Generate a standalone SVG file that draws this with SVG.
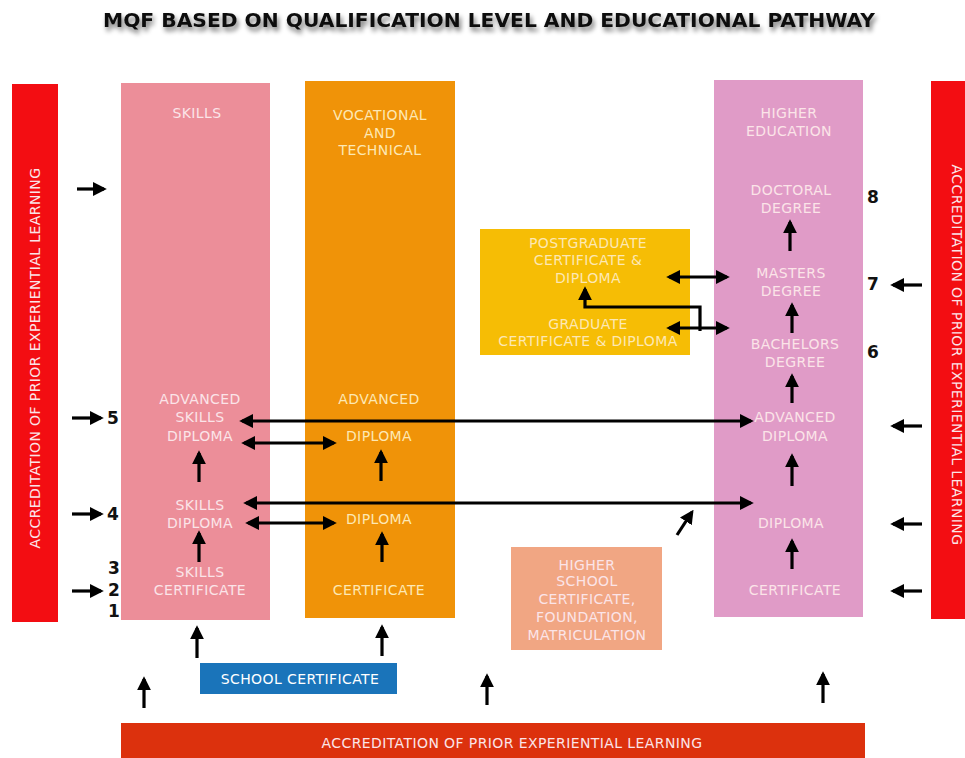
<svg xmlns="http://www.w3.org/2000/svg" width="965" height="758" viewBox="0 0 965 758">
<defs>
<marker id="ah" viewBox="0 0 10 10" refX="8" refY="5" markerWidth="14" markerHeight="14" markerUnits="userSpaceOnUse" orient="auto-start-reverse">
<path d="M0,0 L10,5 L0,10 Z" fill="#000"/>
</marker>
<filter id="sh" x="-5%" y="-50%" width="110%" height="200%">
<feGaussianBlur in="SourceAlpha" stdDeviation="2.5"/>
<feOffset dx="2" dy="4" result="b"/>
<feComponentTransfer><feFuncA type="linear" slope="0.55"/></feComponentTransfer>
<feMerge><feMergeNode/><feMergeNode in="SourceGraphic"/></feMerge>
</filter>
</defs>
<style>
.t{font-family:"DejaVu Sans","Liberation Sans",sans-serif;font-size:14px;letter-spacing:0.4px;text-anchor:middle}
.pk{fill:#fbe4e8}
.yl{fill:#fde8b4}
.wh{fill:#fff}
.num{font-family:"DejaVu Sans","Liberation Sans",sans-serif;font-size:17px;font-weight:bold;fill:#111;text-anchor:middle}
.a{stroke:#000;stroke-width:3.2;fill:none;marker-end:url(#ah)}
.d{stroke:#000;stroke-width:3.2;fill:none;marker-end:url(#ah);marker-start:url(#ah)}
</style>
<rect width="965" height="758" fill="#fff"/>
<text x="489" y="27" font-family="'DejaVu Sans','Liberation Sans',sans-serif" font-weight="bold" font-size="20" text-anchor="middle" textLength="772" lengthAdjust="spacingAndGlyphs" fill="#111" filter="url(#sh)">MQF BASED ON QUALIFICATION LEVEL AND EDUCATIONAL PATHWAY</text>

<g id="apel-left">
<rect x="12" y="84" width="46" height="538" fill="#f30d12"/>
<text class="t pk" transform="translate(40,358) rotate(-90)" font-size="14.5">ACCREDITATION OF PRIOR EXPERIENTIAL LEARNING</text>
</g>
<g id="apel-right">
<rect x="931" y="81" width="34" height="538" fill="#f30d12"/>
<text class="t pk" transform="translate(952,355) rotate(90)" font-size="14.5">ACCREDITATION OF PRIOR EXPERIENTIAL LEARNING</text>
</g>
<g id="apel-bottom">
<rect x="121" y="723" width="744" height="35" fill="#dc310d"/>
<text class="t pk" x="512" y="748" font-size="14.5">ACCREDITATION OF PRIOR EXPERIENTIAL LEARNING</text>
</g>

<g id="skills">
<rect x="121" y="83" width="149" height="537" fill="#ec8e99"/>
<text class="t pk" x="197" y="118">SKILLS</text>
<text class="t pk" x="200" y="404">ADVANCED</text>
<text class="t pk" x="200" y="422">SKILLS</text>
<text class="t pk" x="200" y="441">DIPLOMA</text>
<text class="t pk" x="200" y="510">SKILLS</text>
<text class="t pk" x="200" y="528">DIPLOMA</text>
<text class="t pk" x="200" y="577">SKILLS</text>
<text class="t pk" x="200" y="595">CERTIFICATE</text>
</g>

<g id="vocational">
<rect x="305" y="81" width="150" height="537" fill="#f09308"/>
<text class="t yl" x="380" y="120">VOCATIONAL</text>
<text class="t yl" x="380" y="138">AND</text>
<text class="t yl" x="380" y="155">TECHNICAL</text>
<text class="t yl" x="379" y="404">ADVANCED</text>
<text class="t yl" x="379" y="441">DIPLOMA</text>
<text class="t yl" x="379" y="524">DIPLOMA</text>
<text class="t yl" x="379" y="595">CERTIFICATE</text>
</g>

<g id="graduate-box">
<rect x="480" y="229" width="210" height="126" fill="#f6bd05"/>
<text class="t yl" x="588" y="248">POSTGRADUATE</text>
<text class="t yl" x="588" y="265">CERTIFICATE &amp;</text>
<text class="t yl" x="588" y="283">DIPLOMA</text>
<text class="t yl" x="588" y="329">GRADUATE</text>
<text class="t yl" x="588" y="346">CERTIFICATE &amp; DIPLOMA</text>
</g>

<g id="higher-education">
<rect x="714" y="80" width="149" height="537" fill="#e09bc7"/>
<text class="t pk" x="789" y="118">HIGHER</text>
<text class="t pk" x="789" y="136">EDUCATION</text>
<text class="t pk" x="791" y="195">DOCTORAL</text>
<text class="t pk" x="791" y="213">DEGREE</text>
<text class="t pk" x="791" y="278">MASTERS</text>
<text class="t pk" x="791" y="296">DEGREE</text>
<text class="t pk" x="795" y="349">BACHELORS</text>
<text class="t pk" x="795" y="367">DEGREE</text>
<text class="t pk" x="795" y="422">ADVANCED</text>
<text class="t pk" x="795" y="441">DIPLOMA</text>
<text class="t pk" x="791" y="528">DIPLOMA</text>
<text class="t pk" x="795" y="595">CERTIFICATE</text>
</g>

<g id="higher-school">
<rect x="511" y="547" width="151" height="103" fill="#f1a683"/>
<text class="t pk" x="587" y="570">HIGHER</text>
<text class="t pk" x="587" y="586">SCHOOL</text>
<text class="t pk" x="587" y="604">CERTIFICATE,</text>
<text class="t pk" x="587" y="622">FOUNDATION,</text>
<text class="t pk" x="587" y="640">MATRICULATION</text>
</g>

<g id="school-certificate">
<rect x="200" y="663" width="197" height="31" fill="#1a74ba"/>
<text class="t wh" x="300" y="684">SCHOOL CERTIFICATE</text>
</g>

<g id="levels">
<text class="num" x="873" y="203">8</text>
<text class="num" x="873" y="290">7</text>
<text class="num" x="873" y="358">6</text>
<text class="num" x="113" y="424">5</text>
<text class="num" x="113" y="520">4</text>
<text class="num" x="114" y="574">3</text>
<text class="num" x="114" y="596">2</text>
<text class="num" x="114" y="617">1</text>
</g>

<g id="connectors">
<line class="a" x1="77" y1="189" x2="104" y2="189"/>
<line class="a" x1="72" y1="418" x2="101" y2="418"/>
<line class="a" x1="72" y1="514" x2="101" y2="514"/>
<line class="a" x1="72" y1="591" x2="101" y2="591"/>
<line class="a" x1="922" y1="285" x2="893" y2="285"/>
<line class="a" x1="922" y1="426" x2="893" y2="426"/>
<line class="a" x1="922" y1="524" x2="893" y2="524"/>
<line class="a" x1="922" y1="591" x2="893" y2="591"/>
<line class="a" x1="199" y1="482" x2="199" y2="453"/>
<line class="a" x1="199" y1="562" x2="199" y2="533"/>
<line class="a" x1="381" y1="481" x2="381" y2="452"/>
<line class="a" x1="382" y1="562" x2="382" y2="534"/>
<line class="a" x1="790" y1="251" x2="790" y2="222"/>
<line class="a" x1="792" y1="333" x2="792" y2="305"/>
<line class="a" x1="792" y1="403" x2="792" y2="376"/>
<line class="a" x1="792" y1="486" x2="792" y2="456"/>
<line class="a" x1="792" y1="569" x2="792" y2="541"/>
<line class="a" x1="197" y1="658" x2="197" y2="628"/>
<line class="a" x1="382" y1="656" x2="382" y2="627"/>
<line class="a" x1="144" y1="708" x2="144" y2="679"/>
<line class="a" x1="487" y1="705" x2="487" y2="676"/>
<line class="a" x1="823" y1="703" x2="823" y2="674"/>
<line class="a" x1="677" y1="535" x2="692" y2="512"/>
<line class="d" x1="242" y1="421" x2="751" y2="421"/>
<line class="d" x1="246" y1="503" x2="751" y2="503"/>
<line class="d" x1="244" y1="443" x2="334" y2="443"/>
<line class="d" x1="248" y1="523" x2="334" y2="523"/>
<line class="d" x1="669" y1="277" x2="727" y2="277"/>
<line class="d" x1="669" y1="328" x2="727" y2="328"/>
<path class="a" d="M700,331 L700,307 L585,307 L585,289"/>
</g>
</svg>
